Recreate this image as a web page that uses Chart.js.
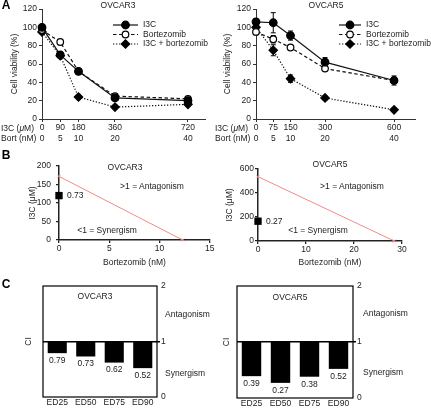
<!DOCTYPE html>
<html><head><meta charset="utf-8">
<script src="https://cdn.jsdelivr.net/npm/chart.js@4"></script>
<style>
html,body{margin:0;padding:0;background:#fff;}
#wrap{position:relative;width:431px;height:412px;overflow:hidden;font-family:"Liberation Sans",Arial,sans-serif;color:#222;}
canvas{position:absolute;}
.t{position:absolute;font-size:8.5px;white-space:nowrap;line-height:1;}
.c{transform:translate(-50%,-50%);}
.l{transform:translate(0,-50%);}
.p{font-weight:bold;font-size:12px;color:#000;}
</style></head><body>
<div id="wrap">
<canvas id="cA3" width="215" height="145" style="left:0;top:0"></canvas>
<canvas id="cA5" width="216" height="145" style="left:215px;top:0"></canvas>
<canvas id="cB3" width="215" height="125" style="left:0;top:150px"></canvas>
<canvas id="cB5" width="216" height="125" style="left:215px;top:150px"></canvas>
<canvas id="cC3" width="215" height="132" style="left:0;top:280px"></canvas>
<canvas id="cC5" width="216" height="132" style="left:215px;top:280px"></canvas>

<div class="t p c" style="left:6px;top:5px">A</div>
<div class="t c" style="left:118px;top:5px">OVCAR3</div>
<div class="t c" style="left:326px;top:5px">OVCAR5</div>
<div class="t l" style="left:1px;top:128px">I3C (<i>μ</i>M)</div>
<div class="t l" style="left:1px;top:138px">Bort (nM)</div>
<div class="t l" style="left:215px;top:128px">I3C (<i>μ</i>M)</div>
<div class="t l" style="left:215px;top:138px">Bort (nM)</div>

<div class="t p c" style="left:6px;top:155px">B</div>
<div class="t c" style="left:125px;top:167px">OVCAR3</div>
<div class="t c" style="left:330px;top:164px">OVCAR5</div>
<div class="t c" style="left:152px;top:186px">&gt;1 = Antagonism</div>
<div class="t c" style="left:352px;top:186px">&gt;1 = Antagonism</div>
<div class="t c" style="left:107px;top:230px">&lt;1 = Synergism</div>
<div class="t c" style="left:318px;top:230px">&lt;1 = Synergism</div>

<div class="t p c" style="left:6px;top:284px">C</div>
<div class="t c" style="left:95px;top:296px">OVCAR3</div>
<div class="t c" style="left:290px;top:297px">OVCAR5</div>
<div class="t l" style="left:165px;top:314px">Antagonism</div>
<div class="t l" style="left:165px;top:373px">Synergism</div>
<div class="t l" style="left:363px;top:313px">Antagonism</div>
<div class="t l" style="left:363px;top:372px">Synergism</div>
</div>
<script>
// ---------- data ----------
const seriesNames = ['I3C', 'Bortezomib', 'I3C + bortezomib'];
const i3cDoseOV3 = [0, 90, 180, 360, 720];
const i3cDoseOV5 = [0, 75, 150, 300, 600];
const bortDose = [0, 5, 10, 20, 40];

const ov3I3C = [100, 70, 52, 23, 20];
const ov3Bort = [97, 84, 52, 25, 22];
const ov3Combo = [95, 69, 24, 13, 16];
const ov3I3CErr = [2, 2, 2, 2, 2];
const ov3BortErr = [2, 2, 1, 1, 1];
const ov3ComboErr = [2, 2, 2, 2, 2];

const ov5I3C = [106, 105, 91, 62, 42];
const ov5Bort = [95, 87, 78, 55, 42];
const ov5Combo = [100, 75, 44, 23, 10];
const ov5I3CErr = [3, 11, 5, 5, 5];
const ov5BortErr = [3, 4, 2, 2, 2];
const ov5ComboErr = [2, 6, 4, 2, 2];

// isobologram: [I3C alone (µM), bortezomib alone (nM)]
const isoOV3 = [172, 12.3];
const isoOV5 = [536, 28.4];
const comboPtOV3 = [0, 120];
const comboPtOV5 = [0, 165];
const ciLabelOV3 = '0.73';
const ciLabelOV5 = '0.27';

const edLabels = ['ED25', 'ED50', 'ED75', 'ED90'];
const ciOV3 = [0.79, 0.73, 0.62, 0.52];
const ciOV5 = [0.39, 0.27, 0.38, 0.52];

// ---------- setup ----------
const FAM = '"Liberation Sans", Arial, sans-serif';
const TXT = '#222';
const F = {size: 8.5, family: FAM};
Chart.defaults.font.family = FAM;
Chart.defaults.font.size = 8.5;
Chart.defaults.color = TXT;
Chart.defaults.animation = false;
Chart.defaults.plugins.legend.display = false;
Chart.defaults.plugins.tooltip.enabled = false;

function fixW(w){ return s => { s.width = w; s.paddingTop = 0; s.paddingBottom = 0; }; }
function fixH(h){ return s => { s.height = h; s.paddingLeft = 0; s.paddingRight = 0; }; }

const extras = {
  id: 'extras',
  beforeDatasetsDraw(chart) {
    const ctx = chart.ctx;
    chart.data.datasets.forEach((ds, i) => {
      if (!ds.errors) return;
      const meta = chart.getDatasetMeta(i);
      const ys = chart.scales[meta.yAxisID];
      ctx.save(); ctx.strokeStyle = '#000'; ctx.lineWidth = 1; ctx.setLineDash([]);
      meta.data.forEach((pt, j) => {
        const e = ds.errors[j]; if (!e) return;
        const v = ds.data[j].y;
        const y1 = ys.getPixelForValue(v + e), y2 = ys.getPixelForValue(v - e);
        ctx.beginPath();
        ctx.moveTo(pt.x, y1); ctx.lineTo(pt.x, y2);
        ctx.moveTo(pt.x - 2.5, y1); ctx.lineTo(pt.x + 2.5, y1);
        ctx.moveTo(pt.x - 2.5, y2); ctx.lineTo(pt.x + 2.5, y2);
        ctx.stroke();
      });
      ctx.restore();
    });
  },
  afterDraw(chart, args, opts) {
    const ctx = chart.ctx;
    const ca = chart.chartArea;
    if (opts.frame) {
      ctx.save(); ctx.strokeStyle = '#000'; ctx.lineWidth = 1.2;
      ctx.strokeRect(ca.left, ca.top, ca.right - ca.left, ca.bottom - ca.top);
      ctx.restore();
    }
    chart.data.datasets.forEach((ds, i) => {
      const meta = chart.getDatasetMeta(i);
      if (ds.ptLabel) {
        const el = meta.data[0];
        ctx.save(); ctx.fillStyle = TXT; ctx.font = '8.5px ' + FAM;
        ctx.textAlign = 'left'; ctx.textBaseline = 'middle';
        ctx.fillText(ds.ptLabel, el.x + 8, el.y);
        ctx.restore();
      }
      if (ds.valueLabels) {
        ctx.save(); ctx.fillStyle = TXT; ctx.font = '8.5px ' + FAM;
        ctx.textAlign = 'center'; ctx.textBaseline = 'middle';
        meta.data.forEach((el, j) => {
          ctx.fillText(ds.valueLabels[j].toFixed(2), el.x, Math.max(el.y, el.base) + 7.5);
        });
        ctx.restore();
      }
    });
    if (opts.legend) {
      const L = opts.legend;
      chart.data.datasets.forEach((ds, i) => {
        const y = L.y + i * L.dy;
        ctx.save();
        ctx.strokeStyle = ds.borderColor; ctx.lineWidth = ds.borderWidth;
        ctx.setLineDash(ds.borderDash || []);
        ctx.beginPath(); ctx.moveTo(L.x, y); ctx.lineTo(L.x + L.len, y); ctx.stroke();
        ctx.setLineDash([]);
        ctx.fillStyle = ds.pointBackgroundColor; ctx.strokeStyle = ds.pointBorderColor;
        ctx.lineWidth = ds.pointBorderWidth;
        Chart.helpers.drawPoint(ctx, {pointStyle: ds.pointStyle, radius: ds.pointRadius, rotation: 0, borderWidth: ds.pointBorderWidth}, L.x + L.len / 2, y);
        ctx.fillStyle = TXT; ctx.font = '8.5px ' + FAM;
        ctx.textAlign = 'left'; ctx.textBaseline = 'middle';
        ctx.fillText(seriesNames[i], L.x + L.len + 5, y);
        ctx.restore();
      });
    }
  }
};
Chart.register(extras);

const lineStyles = [
  {borderDash: [], pointStyle: 'circle', pointRadius: 3.8, pointBackgroundColor: '#000'},
  {borderDash: [3.5, 2.5], pointStyle: 'circle', pointRadius: 3.3, pointBackgroundColor: '#fff'},
  {borderDash: [1.3, 1.7], pointStyle: 'rectRot', pointRadius: 4.2, pointBackgroundColor: '#000'}
];

function panelA(id, doses, values, errs, cfg) {
  const datasets = values.map((vals, k) => Object.assign({
    label: seriesNames[k],
    data: vals.map((v, j) => ({x: doses[j], y: v})),
    errors: errs[k],
    borderColor: '#111', borderWidth: 1.2,
    pointBorderColor: '#000', pointBorderWidth: 1.2,
    clip: false
  }, lineStyles[k]));
  new Chart(document.getElementById(id), {
    type: 'line',
    data: {datasets},
    options: {
      responsive: false,
      layout: {padding: {left: 0, right: cfg.pr, top: 9, bottom: 0}},
      plugins: {extras: {legend: cfg.legend}},
      scales: {
        x: {
          type: 'linear', min: 0, max: cfg.xMax,
          afterFit: fixH(26),
          afterBuildTicks: s => { s.ticks = doses.map(v => ({value: v})); },
          ticks: {autoSkip: false, maxRotation: 0, padding: 1, font: F, color: TXT,
                  callback: (v, i) => [String(doses[i]), String(bortDose[i])]},
          grid: {drawOnChartArea: false, tickLength: 3, color: '#333'},
          border: {color: '#333', width: 1}
        },
        y: {
          min: 0, max: 120,
          afterFit: fixW(cfg.wy),
          ticks: {stepSize: 20, padding: 2, font: F, color: TXT},
          grid: {drawOnChartArea: false, tickLength: 3, color: '#333'},
          border: {color: '#333', width: 1},
          title: {display: true, text: 'Cell viability (%)', font: F, color: TXT, padding: {top: cfg.tp, bottom: 0}}
        }
      }
    }
  });
}

panelA('cA3', i3cDoseOV3, [ov3I3C, ov3Bort, ov3Combo], [ov3I3CErr, ov3BortErr, ov3ComboErr],
  {pr: 10, xMax: 804, wy: 42, tp: 10, legend: {x: 113, y: 25, dy: 9.5, len: 25}});
panelA('cA5', i3cDoseOV5, [ov5I3C, ov5Bort, ov5Combo], [ov5I3CErr, ov5BortErr, ov5ComboErr],
  {pr: 16, xMax: 691, wy: 41, tp: 8, legend: {x: 124, y: 25, dy: 9.5, len: 22}});

function panelB(id, iso, pt, label, cfg) {
  new Chart(document.getElementById(id), {
    type: 'line',
    data: {datasets: [
      {data: [{x: 0, y: iso[0]}, {x: iso[1], y: 0}], borderColor: '#f28a8a', borderWidth: 1,
       pointStyle: 'crossRot', pointRadius: 2, pointBorderColor: '#f28a8a', pointBorderWidth: 1, clip: false},
      {data: [{x: pt[0], y: pt[1]}], showLine: false, pointStyle: 'rect', pointRadius: 5.2,
       pointBackgroundColor: '#000', pointBorderColor: '#000', pointBorderWidth: 0, ptLabel: label, clip: false}
    ]},
    options: {
      responsive: false,
      layout: {padding: {left: 0, right: cfg.pr, top: cfg.pt, bottom: 0}},
      scales: {
        x: {
          type: 'linear', min: 0, max: cfg.xMax,
          afterFit: fixH(cfg.hx),
          ticks: {stepSize: cfg.xStep, padding: 1, maxRotation: 0, font: F, color: TXT},
          grid: {drawOnChartArea: false, tickLength: 3, color: '#222', lineWidth: 1.3},
          border: {color: '#222', width: 1.5},
          title: {display: true, text: 'Bortezomib (nM)', font: F, color: TXT, padding: {top: 0, bottom: 7}}
        },
        y: {
          min: 0, max: cfg.yMax,
          afterFit: fixW(cfg.wy),
          ticks: {stepSize: cfg.yStep, padding: cfg.yPad, font: F, color: TXT},
          grid: {drawOnChartArea: false, tickLength: 3, color: '#222', lineWidth: 1.3},
          border: {color: '#222', width: 1.5},
          title: {display: true, text: 'I3C (μM)', font: F, color: TXT, padding: {top: cfg.tp, bottom: 0}}
        }
      }
    }
  });
}

panelB('cB3', isoOV3, comboPtOV3, ciLabelOV3, {pr: 5, pt: 16, hx: 35, wy: 59, xMax: 15, xStep: 5, yMax: 200, yStep: 50, yPad: 5, tp: 28});
panelB('cB5', isoOV5, comboPtOV5, ciLabelOV5, {pr: 29, pt: 19, hx: 34, wy: 43, xMax: 30, xStep: 10, yMax: 600, yStep: 200, yPad: 1, tp: 10});

function panelC(id, ci, cfg) {
  new Chart(document.getElementById(id), {
    type: 'bar',
    data: {labels: edLabels, datasets: [{
      data: ci.map(v => [v, 1]), valueLabels: ci, backgroundColor: '#000',
      barPercentage: 0.67, categoryPercentage: 1, yAxisID: 'y'
    }]},
    options: {
      responsive: false,
      layout: {padding: {left: 0, right: cfg.pr, top: 6, bottom: 0}},
      plugins: {extras: {frame: true}},
      scales: {
        x: {
          afterFit: fixH(cfg.hx),
          ticks: {padding: 1, font: F, color: TXT, maxRotation: 0},
          grid: {display: false, drawTicks: false},
          border: {display: false}
        },
        y: {
          position: 'right', min: 0, max: 2,
          afterFit: fixW(20),
          ticks: {stepSize: 1, padding: 1, font: F, color: TXT},
          grid: {drawOnChartArea: true, tickLength: 3, tickColor: '#000',
                 color: c => c.tick && c.tick.value === 1 ? '#000' : 'rgba(0,0,0,0)',
                 lineWidth: c => c.tick && c.tick.value === 1 ? 1.5 : 0},
          border: {display: false}
        },
        yl: {
          position: 'left', min: 0, max: 2,
          afterFit: fixW(cfg.wl),
          ticks: {display: false},
          grid: {display: false, drawTicks: false},
          border: {display: false},
          title: {display: true, text: 'CI', font: F, color: TXT, padding: {top: cfg.tp, bottom: 0}}
        }
      }
    }
  });
}

panelC('cC3', ciOV3, {pr: 38, hx: 15, wl: 43, tp: 24});
panelC('cC5', ciOV5, {pr: 58, hx: 14, wl: 22, tp: 7});
</script>
</body></html>
